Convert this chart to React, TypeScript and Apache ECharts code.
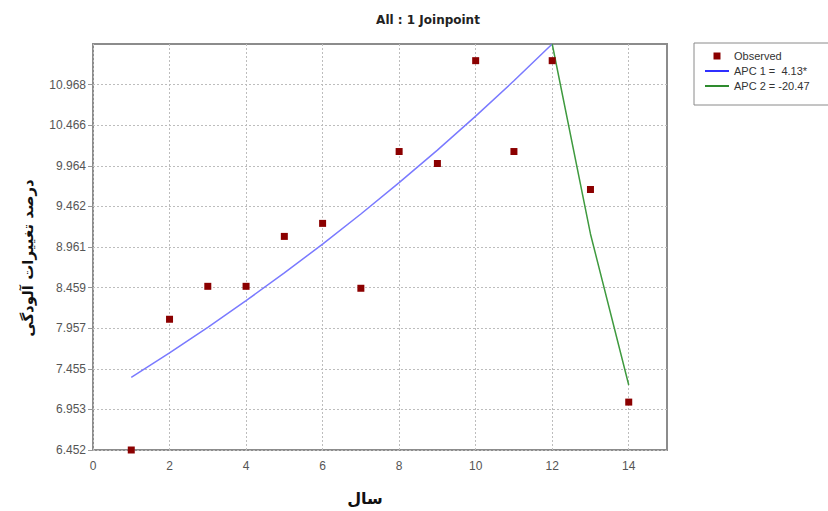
import React, { useEffect, useRef } from "react";
import * as echarts from "echarts";

const years = [1, 2, 3, 4, 5, 6, 7, 8, 9, 10, 11, 12, 13, 14];
const observed = [6.452, 8.068, 8.475, 8.475, 9.092, 9.253, 8.451, 10.141, 9.993, 11.264, 10.141, 11.264, 9.672, 7.044];
const apc1Years = [1, 2, 3, 4, 5, 6, 7, 8, 9, 10, 11, 12];
const apc1Values = [7.349, 7.652, 7.969, 8.298, 8.64, 8.997, 9.369, 9.756, 10.159, 10.578, 11.015, 11.47];
const apc2Years = [12, 13, 14];
const apc2Values = [11.47, 9.122, 7.255];
const yTicks = [6.452, 6.953, 7.455, 7.957, 8.459, 8.961, 9.462, 9.964, 10.466, 10.968];
const xTicks = [0, 2, 4, 6, 8, 10, 12, 14];

const TITLE = "All : 1 Joinpoint";
const X_NAME = "سال";
const Y_NAME = "درصد تغییرات آلودگی";
const LEGEND_OBS = "Observed";
const LEGEND_APC1 = "APC 1 =  4.13*";
const LEGEND_APC2 = "APC 2 = -20.47";

export default function App() {
  const ref = useRef<HTMLDivElement>(null);
  useEffect(() => {
    if (!ref.current) return;
    const chart = echarts.init(ref.current, undefined, { renderer: "svg" });
    const gridLine = { show: true, lineStyle: { color: "#bdbdbd", type: [2, 2] as any, width: 1 } };
    chart.setOption({
      animation: false,
      backgroundColor: "#ffffff",
      title: {
        text: TITLE,
        left: 423,
        textAlign: "center",
        top: 9,
        textStyle: { fontFamily: "DejaVu Sans", fontWeight: "bold", fontSize: 12, color: "#222" },
      },
      legend: {
        orient: "vertical",
        left: 694,
        top: 43,
        padding: [7, 20, 13, 10],
        itemWidth: 24,
        itemHeight: 7,
        itemGap: 3,
        borderColor: "#8a8a8a",
        borderWidth: 1,
        textStyle: { fontFamily: "Liberation Sans", fontSize: 11, color: "#333", lineHeight: 12 },
        data: [
          { name: LEGEND_OBS, icon: "path://M0 0H10V10H0Z", itemStyle: { color: "#8b0000", opacity: 1 } },
          {
            name: LEGEND_APC1,
            lineStyle: { color: "#2f2fff", width: 2 },
            itemStyle: { opacity: 0 },
          },
          {
            name: LEGEND_APC2,
            lineStyle: { color: "#2e8b2e", width: 2 },
            itemStyle: { opacity: 0 },
          },
        ],
      },
      grid: {
        left: 93,
        top: 44,
        right: 161,
        bottom: 61,
        show: true,
        borderColor: "#8c8c8c",
        borderWidth: 2,
        backgroundColor: "transparent",
      },
      xAxis: {
        type: "value",
        min: 0,
        max: 15,
        name: X_NAME,
        nameLocation: "middle",
        nameGap: 40,
        nameTextStyle: {
          fontFamily: "DejaVu Sans",
          fontWeight: "bold",
          fontSize: 16,
          color: "#111",
          padding: [0, 30, 0, 0],
        },
        axisLine: { show: false },
        axisTick: { show: false, customValues: xTicks },
        axisLabel: { customValues: xTicks, fontFamily: "Liberation Sans", fontSize: 12, color: "#555", margin: 10 },
        splitLine: gridLine,
      },
      yAxis: {
        type: "value",
        min: 6.452,
        max: 11.47,
        name: Y_NAME,
        nameLocation: "middle",
        nameRotate: 90,
        nameGap: 58,
        nameTextStyle: {
          fontFamily: "DejaVu Sans",
          fontWeight: "bold",
          fontSize: 15,
          color: "#111",
          padding: [0, 22, 0, 0],
        },
        axisLine: { show: false },
        axisTick: { show: true, customValues: yTicks, length: 5, lineStyle: { color: "#999" } },
        axisLabel: { customValues: yTicks, fontFamily: "Liberation Sans", fontSize: 12, color: "#555", margin: 7 },
        splitLine: gridLine,
      },
      series: [
        {
          name: LEGEND_APC1,
          type: "line",
          data: apc1Years.map((x, i) => [x, apc1Values[i]]),
          symbol: "none",
          smooth: false,
          lineStyle: { color: "#7a7aff", width: 1.5 },
          itemStyle: { color: "#7a7aff" },
          z: 2,
        },
        {
          name: LEGEND_APC2,
          type: "line",
          data: apc2Years.map((x, i) => [x, apc2Values[i]]),
          symbol: "none",
          lineStyle: { color: "#3f9a3f", width: 1.5 },
          itemStyle: { color: "#3f9a3f" },
          z: 2,
        },
        {
          name: LEGEND_OBS,
          type: "scatter",
          data: years.map((x, i) => [x, observed[i]]),
          symbol: "rect",
          symbolSize: 7,
          itemStyle: { color: "#8b0000", opacity: 1 },
          z: 3,
        },
      ],
    });
    return () => chart.dispose();
  }, []);
  return (
    <div
      ref={ref}
      style={{ position: "fixed", left: 0, top: 0, width: 828, height: 511, background: "#fff" }}
    />
  );
}
